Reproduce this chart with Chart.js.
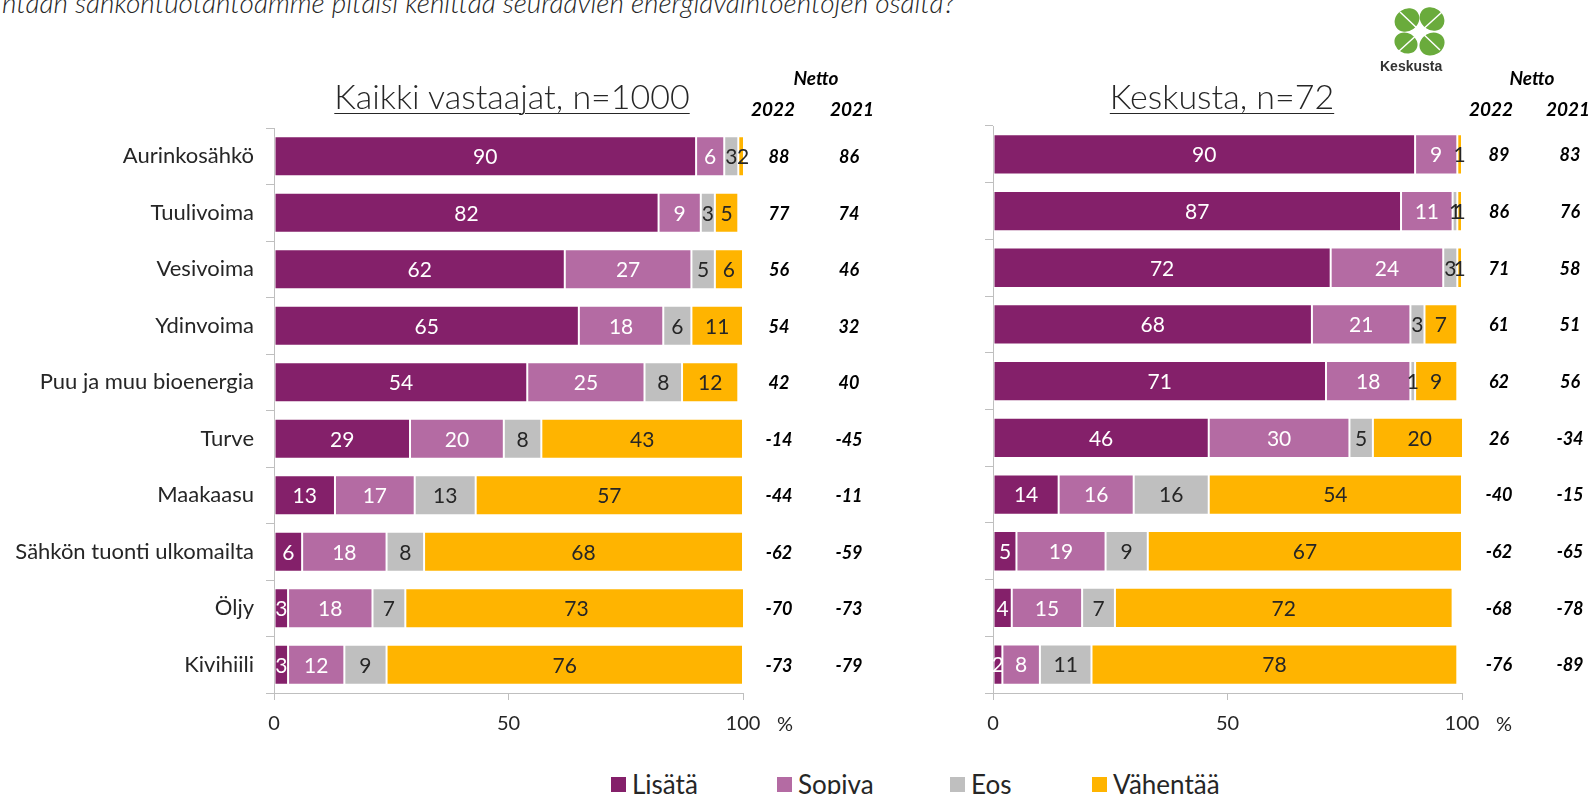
<!DOCTYPE html>
<html><head><meta charset="utf-8">
<script src="https://cdn.jsdelivr.net/npm/chart.js@4/dist/chart.umd.min.js"></script>
<style>
html,body{margin:0;padding:0;background:#fff;width:1596px;height:794px;overflow:hidden;position:relative;font-family:Lato,"Open Sans",sans-serif;color:#262626}
.abs{position:absolute;white-space:nowrap}
.title{font-size:34px;font-weight:300;text-decoration:underline;text-decoration-thickness:1px;text-underline-offset:4px;transform:translateX(-50%)}
.hdr{font-style:italic;font-weight:700;font-size:19px;color:#000;transform:translateX(-50%)}
.leg{font-size:26px;color:#262626;display:flex;align-items:center}
.sq{width:15px;height:15px;display:inline-block;margin-right:6px}
</style></head><body>
<div class="abs" style="left:2px;top:-15px;font-size:28px;font-style:italic;font-weight:300;color:#262626">ntaan sähköntuotantoamme pitäisi kehittää seuraavien energiavaihtoehtojen osalta?</div>
<canvas id="c1" class="abs" style="left:0;top:0" width="900" height="760"></canvas>
<canvas id="c2" class="abs" style="left:900px;top:0" width="696" height="760"></canvas>
<div class="abs title" style="left:512px;top:75px">Kaikki vastaajat, n=1000</div>
<div class="abs title" style="left:1222px;top:75px">Keskusta, n=72</div>
<div class="abs hdr" style="left:816px;top:66px">Netto</div>
<div class="abs hdr" style="left:773px;top:97px">2022</div>
<div class="abs hdr" style="left:852px;top:97px">2021</div>
<div class="abs hdr" style="left:1532px;top:66px">Netto</div>
<div class="abs hdr" style="left:1491px;top:97px">2022</div>
<div class="abs hdr" style="left:1568px;top:97px">2021</div>
<svg class="abs" style="left:1390px;top:6px" width="60" height="52" viewBox="0 0 60 52">
 <g fill="#6aab3c">
  <ellipse cx="17" cy="14" rx="13" ry="11" transform="rotate(-35 17 14)"/>
  <ellipse cx="42" cy="13" rx="13" ry="11" transform="rotate(35 42 13)"/>
  <ellipse cx="16" cy="37" rx="12" ry="10" transform="rotate(30 16 37)"/>
  <ellipse cx="42" cy="38" rx="13" ry="11" transform="rotate(-30 42 38)"/>
 </g>
 <path d="M8 46 L52 6 M10 6 L50 44" stroke="#fff" stroke-width="1.5"/>
</svg>
<div class="abs" style="left:1380px;top:58px;font-family:'Liberation Sans',Arial,sans-serif;font-weight:700;font-size:14px;color:#333">Keskusta</div>
<div class="abs leg" style="left:611px;top:768px"><span class="sq" style="background:#84206a"></span>Lisätä</div>
<div class="abs leg" style="left:777px;top:768px"><span class="sq" style="background:#b46ba3"></span>Sopiva</div>
<div class="abs leg" style="left:950px;top:768px"><span class="sq" style="background:#bfbfbf"></span>Eos</div>
<div class="abs leg" style="left:1092px;top:768px"><span class="sq" style="background:#ffb400"></span>Vähentää</div>
<script>
const categories = ["Aurinkosähkö","Tuulivoima","Vesivoima","Ydinvoima","Puu ja muu bioenergia","Turve","Maakaasu","Sähkön tuonti ulkomailta","Öljy","Kivihiili"];
const seriesNames = ["Lisätä","Sopiva","Eos","Vähentää"];
const seriesColors = ["#84206a","#b46ba3","#bfbfbf","#ffb400"];
const labelColors = ["#ffffff","#ffffff","#262626","#262626"];
const xTicks = [0,50,100];

const allLisata   = [90,82,62,65,54,29,13,6,3,3];
const allSopiva   = [6,9,27,18,25,20,17,18,18,12];
const allEos      = [3,3,5,6,8,8,13,8,7,9];
const allVahentaa = [2,5,6,11,12,43,57,68,73,76];
const allNetto2022 = [88,77,56,54,42,-14,-44,-62,-70,-73];
const allNetto2021 = [86,74,46,32,40,-45,-11,-59,-73,-79];

const kesLisata   = [90,87,72,68,71,46,14,5,4,2];
const kesSopiva   = [9,11,24,21,18,30,16,19,15,8];
const kesEos      = [0,1,3,3,1,5,16,9,7,11];
const kesVahentaa = [1,1,1,7,9,20,54,67,72,78];
const kesNetto2022 = [89,86,71,61,62,26,-40,-62,-68,-76];
const kesNetto2021 = [83,76,58,51,56,-34,-15,-65,-78,-89];

const FONT = "Lato, 'Open Sans', sans-serif";

function makeChart(id, series, n22, n21, geo) {
  const labelPlugin = {
    id: 'segLabels',
    afterDatasetsDraw(chart) {
      const ctx = chart.ctx;
      ctx.save();
      ctx.font = "21px " + FONT;
      ctx.textAlign = 'center';
      ctx.textBaseline = 'middle';
      chart.data.datasets.forEach((ds, di) => {
        const meta = chart.getDatasetMeta(di);
        meta.data.forEach((el, i) => {
          const v = ds.data[i];
          if (!v) return;
          ctx.fillStyle = labelColors[di];
          ctx.fillText(String(v), (el.x + el.base) / 2, el.y + 1);
        });
      });
      const ys = chart.scales.y;
      ctx.fillStyle = '#000';
      ctx.font = "italic 700 18px " + FONT;
      categories.forEach((c, i) => {
        const y = ys.getPixelForValue(i) + 1;
        ctx.fillText(String(n22[i]), geo.n22x, y);
        ctx.fillText(String(n21[i]), geo.n21x, y);
      });
      const xs = chart.scales.x;
      ctx.fillStyle = '#262626';
      ctx.font = "20px " + FONT;
      ctx.fillText('%', xs.right + 42, geo.pctY);
      ctx.restore();
    }
  };
  return new Chart(document.getElementById(id), {
    type: 'bar',
    data: {
      labels: categories,
      datasets: series.map((d, i) => ({
        label: seriesNames[i], data: d, backgroundColor: seriesColors[i],
        borderColor: 'rgba(255,255,255,0.6)', borderWidth: 1, borderSkipped: false,
        barPercentage: 0.71, categoryPercentage: 1
      }))
    },
    options: {
      indexAxis: 'y', responsive: false, animation: false,
      layout: { padding: { left: 0, right: geo.padRight, top: geo.padTop, bottom: geo.padBottom } },
      plugins: { legend: { display: false }, tooltip: { enabled: false } },
      scales: {
        x: {
          stacked: true, min: 0, max: 100,
          afterBuildTicks: s => { s.ticks = xTicks.map(v => ({ value: v })); },
          grid: { drawOnChartArea: false, color: '#bfbfbf', tickLength: 7 },
          border: { color: '#bfbfbf' },
          ticks: { color: '#262626', font: { family: FONT, size: 20 }, padding: 12, maxRotation: 0 },
          afterFit: s => { s.height = 50; }
        },
        y: {
          stacked: true,
          grid: { drawOnChartArea: false, color: '#bfbfbf', tickLength: 8, offset: true },
          border: { color: '#bfbfbf' },
          ticks: { display: geo.showLabels, color: '#262626', font: { family: FONT, size: 22 }, padding: 12 },
          afterFit: s => { s.width = geo.yWidth; }
        }
      }
    },
    plugins: [labelPlugin]
  });
}

makeChart('c1', [allLisata, allSopiva, allEos, allVahentaa], allNetto2022, allNetto2021,
  { padRight: 157, padTop: 128, padBottom: 17, yWidth: 274, showLabels: true, n22x: 779, n21x: 849, pctY: 725 });
makeChart('c2', [kesLisata, kesSopiva, kesEos, kesVahentaa], kesNetto2022, kesNetto2021,
  { padRight: 134, padTop: 126, padBottom: 17, yWidth: 93, showLabels: false, n22x: 599, n21x: 670, pctY: 725 });
</script>
</body></html>
